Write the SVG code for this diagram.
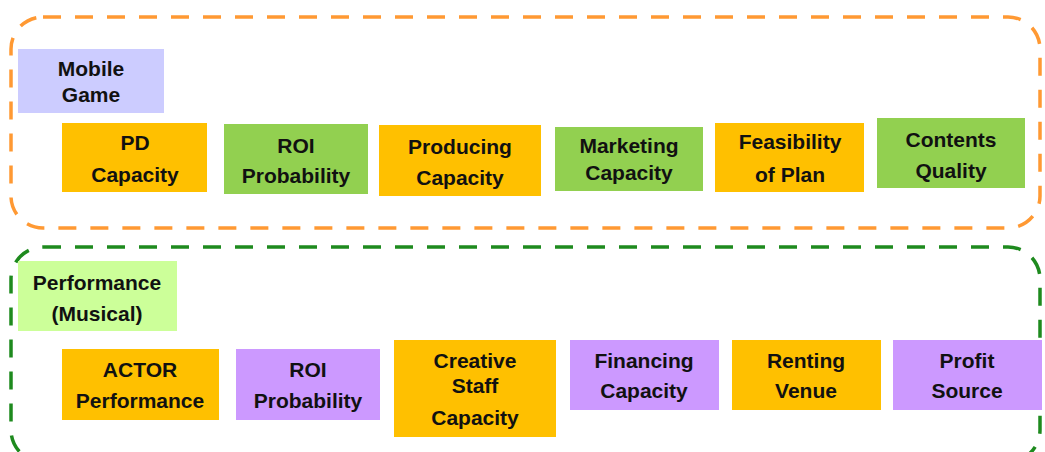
<svg xmlns="http://www.w3.org/2000/svg" width="1045" height="452" viewBox="0 0 1045 452">
<style>
.grp{fill:none;stroke-width:3.5;stroke-dasharray:18 14}
.t{font-family:"Liberation Sans",Arial,sans-serif;font-weight:bold;font-size:21px;fill:#111;text-anchor:middle}
.or{fill:#FFC000}.gr{fill:#92D050}.pu{fill:#CC99FF}
</style>
<rect width="1045" height="452" fill="#fff"/>
<g id="connectors"></g>
<g id="group-mobile"><rect class="grp" x="11" y="17" width="1029" height="211" rx="32" stroke="#FF9933"/></g>
<g id="group-performance"><rect class="grp" x="11" y="247" width="1029" height="215" rx="32" stroke="#1E8A1E"/></g>
<g id="mobile-game"><rect x="18" y="49" width="146" height="64" fill="#CCCCFF"/><text class="t" x="91" y="76">Mobile</text><text class="t" x="91" y="102">Game</text></g>
<g id="pd-capacity"><rect class="or" x="62" y="123" width="145" height="69"/><text class="t" x="135" y="150">PD</text><text class="t" x="135" y="182">Capacity</text></g>
<g id="roi-probability-1"><rect class="gr" x="224" y="124" width="144" height="70"/><text class="t" x="296" y="153">ROI</text><text class="t" x="296" y="183">Probability</text></g>
<g id="producing-capacity"><rect class="or" x="379" y="125" width="162" height="71"/><text class="t" x="460" y="154">Producing</text><text class="t" x="460" y="185">Capacity</text></g>
<g id="marketing-capacity"><rect class="gr" x="555" y="127" width="148" height="64"/><text class="t" x="629" y="153">Marketing</text><text class="t" x="629" y="180">Capacity</text></g>
<g id="feasibility-of-plan"><rect class="or" x="715" y="123" width="149" height="69"/><text class="t" x="790" y="149">Feasibility</text><text class="t" x="790" y="182">of Plan</text></g>
<g id="contents-quality"><rect class="gr" x="877" y="118" width="148" height="70"/><text class="t" x="951" y="147">Contents</text><text class="t" x="951" y="178">Quality</text></g>
<g id="performance-musical"><rect x="18" y="261" width="159" height="70" fill="#CCFF99"/><text class="t" x="97" y="290">Performance</text><text class="t" x="97" y="321">(Musical)</text></g>
<g id="actor-performance"><rect class="or" x="62" y="349" width="157" height="71"/><text class="t" x="140" y="377">ACTOR</text><text class="t" x="140" y="408">Performance</text></g>
<g id="roi-probability-2"><rect class="pu" x="236" y="349" width="144" height="71"/><text class="t" x="308" y="377">ROI</text><text class="t" x="308" y="408">Probability</text></g>
<g id="creative-staff-capacity"><rect class="or" x="394" y="340" width="162" height="97"/><text class="t" x="475" y="368">Creative</text><text class="t" x="475" y="393">Staff</text><text class="t" x="475" y="425">Capacity</text></g>
<g id="financing-capacity"><rect class="pu" x="570" y="340" width="149" height="70"/><text class="t" x="644" y="368">Financing</text><text class="t" x="644" y="398">Capacity</text></g>
<g id="renting-venue"><rect class="or" x="732" y="340" width="149" height="70"/><text class="t" x="806" y="368">Renting</text><text class="t" x="806" y="398">Venue</text></g>
<g id="profit-source"><rect class="pu" x="893" y="340" width="149" height="70"/><text class="t" x="967" y="368">Profit</text><text class="t" x="967" y="398">Source</text></g>
</svg>
